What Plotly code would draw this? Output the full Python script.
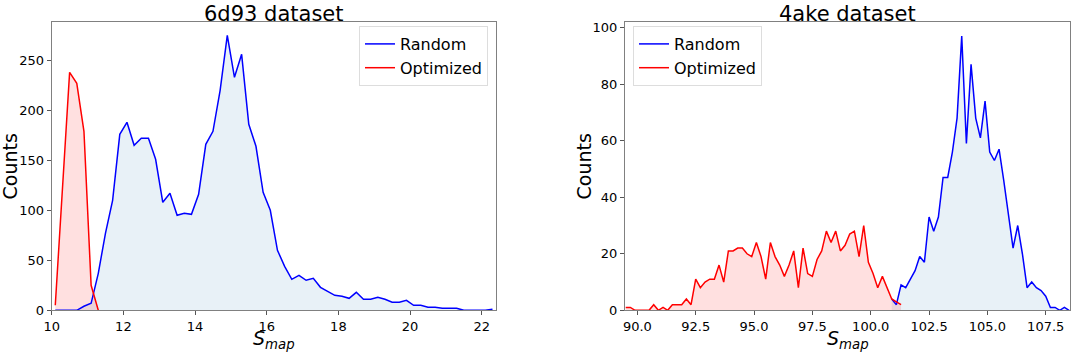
import plotly.graph_objects as go

# ---- 6d93 dataset ----
x6_random = [10.1, 10.3, 10.5, 10.7, 10.9, 11.1, 11.3, 11.5, 11.7, 11.9, 12.1, 12.3, 12.5, 12.7, 12.9,
             13.1, 13.3, 13.5, 13.7, 13.9, 14.1, 14.3, 14.5, 14.7, 14.9, 15.1, 15.3, 15.5, 15.7, 15.9,
             16.1, 16.3, 16.5, 16.7, 16.9, 17.1, 17.3, 17.5, 17.7, 17.9, 18.1, 18.3, 18.5, 18.7, 18.9,
             19.1, 19.3, 19.5, 19.7, 19.9, 20.1, 20.3, 20.5, 20.7, 20.9, 21.1, 21.3, 21.5, 21.7, 21.9,
             22.1, 22.3]
y6_random = [0, 0, 0, 0, 4, 7, 37, 77, 110, 176, 188, 165, 172, 172, 151,
             108, 117, 95, 97, 96, 116, 166, 179, 220, 275, 233, 256, 186, 164, 118,
             100, 60, 44, 31, 35, 30, 32, 23, 19, 15, 14, 12, 18, 11, 11,
             13, 11, 8, 8, 10, 5, 5, 3, 3, 2, 2, 2, 0, 0, 0,
             0, 1]
x6_opt = [10.1, 10.3, 10.5, 10.7, 10.9, 11.1, 11.3]
y6_opt = [5, 120, 238, 227, 179, 25, 0]

# ---- 4ake dataset ----
x4_random = [100.9, 101.1, 101.3, 101.5, 101.7, 101.9, 102.1, 102.3, 102.5, 102.7, 102.9, 103.1, 103.3,
             103.5, 103.7, 103.9, 104.1, 104.3, 104.5, 104.7, 104.9, 105.1, 105.3, 105.5, 105.7, 105.9,
             106.1, 106.3, 106.5, 106.7, 106.9, 107.1, 107.3, 107.5, 107.7, 107.9, 108.1, 108.3, 108.5]
y4_random = [4, 2, 9, 8, 11, 14, 19, 17, 33, 28, 33, 47, 47,
             56, 68, 97, 59, 87, 68, 61, 74, 56, 53, 57, 46, 33,
             22, 30, 20, 8, 10, 8, 7, 5, 1, 1, 0, 1, 0]
x4_opt = [89.5, 89.7, 89.9, 90.1, 90.3, 90.5, 90.7, 90.9, 91.1, 91.3, 91.5, 91.7, 91.9, 92.1, 92.3,
          92.5, 92.7, 92.9, 93.1, 93.3, 93.5, 93.7, 93.9, 94.1, 94.3, 94.5, 94.7, 94.9, 95.1, 95.3,
          95.5, 95.7, 95.9, 96.1, 96.3, 96.5, 96.7, 96.9, 97.1, 97.3, 97.5, 97.7, 97.9, 98.1, 98.3,
          98.5, 98.7, 98.9, 99.1, 99.3, 99.5, 99.7, 99.9, 100.1, 100.3, 100.5, 100.7, 100.9, 101.1, 101.3]
y4_opt = [1, 1, 0, 0, 0, 0, 2, 0, 1, 0, 2, 2, 2, 4, 2,
          11, 8, 10, 11, 11, 16, 10, 21, 21, 22, 22, 20, 19, 24, 19,
          11, 24, 19, 16, 12, 16, 21, 8, 22, 13, 12, 18, 21, 28, 24,
          28, 21, 23, 27, 28, 19, 30, 17, 13, 8, 12, 8, 4, 3, 2]

x6_ticks = [10, 12, 14, 16, 18, 20, 22]
y6_ticks = [0, 50, 100, 150, 200, 250]
x4_ticks = [90.0, 92.5, 95.0, 97.5, 100.0, 102.5, 105.0, 107.5]
y4_ticks = [0, 20, 40, 60, 80, 100]

titles = ["6d93 dataset", "4ake dataset"]
series_names = ["Random", "Optimized"]

BLUE = "#0000ff"
RED = "#ff0000"
BLUE_FILL = "rgba(31,119,180,0.10)"
RED_FILL = "rgba(255,0,0,0.12)"
FONT = "DejaVu Sans"

fig = go.Figure()

def add_fill(x, y, fill, xa, ya):
    fig.add_trace(go.Scatter(x=x, y=y, mode="lines", line=dict(width=0),
                             fill="tozeroy", fillcolor=fill, showlegend=False,
                             hoverinfo="skip", xaxis=xa, yaxis=ya))

def add_line(x, y, name, color, xa, ya, legend):
    fig.add_trace(go.Scatter(x=x, y=y, mode="lines", name=name,
                             line=dict(color=color, width=1.5),
                             xaxis=xa, yaxis=ya, legend=legend))

add_fill(x6_random, y6_random, BLUE_FILL, "x", "y")
add_fill(x6_opt, y6_opt, RED_FILL, "x", "y")
add_line(x6_random, y6_random, series_names[0], BLUE, "x", "y", "legend")
add_line(x6_opt, y6_opt, series_names[1], RED, "x", "y", "legend")

add_fill(x4_random, y4_random, BLUE_FILL, "x2", "y2")
add_fill(x4_opt, y4_opt, RED_FILL, "x2", "y2")
add_line(x4_random, y4_random, series_names[0], BLUE, "x2", "y2", "legend2")
add_line(x4_opt, y4_opt, series_names[1], RED, "x2", "y2", "legend2")

W, H = 1072, 352
def px_x(p):
    return p / W
def px_y(p):
    return (H - p) / H

axis_common = dict(showline=True, mirror=True, linecolor="#808080", linewidth=1,
                   ticks="outside", ticklen=4, tickcolor="#555555",
                   showgrid=False, zeroline=False, automargin=False,
                   tickfont=dict(family=FONT, size=13, color="black"))

legend_common = dict(bgcolor="rgba(255,255,255,0.8)", bordercolor="#dddddd", borderwidth=1,
                     font=dict(family=FONT, size=16, color="black"),
                     tracegroupgap=0, itemwidth=30)

fig.update_layout(
    width=W, height=H,
    margin=dict(l=0, r=0, t=0, b=0, autoexpand=False),
    paper_bgcolor="white", plot_bgcolor="white",
    font=dict(family=FONT, color="black"),
    xaxis=dict(domain=[px_x(51.7), px_x(495.7)], range=[10, 22.39],
               tickvals=x6_ticks, ticktext=[str(v) for v in x6_ticks], anchor="y", **axis_common),
    yaxis=dict(domain=[px_y(310.3), px_y(22.3)], range=[0, 288],
               tickvals=y6_ticks, anchor="x", **axis_common),
    xaxis2=dict(domain=[px_x(625), px_x(1070)], range=[89.47, 108.54],
                tickvals=x4_ticks, ticktext=[f"{v:.1f}" for v in x4_ticks], anchor="y2", **axis_common),
    yaxis2=dict(domain=[px_y(310.3), px_y(22.3)], range=[0, 101.9],
                tickvals=y4_ticks, anchor="x2", **axis_common),
    legend=dict(x=px_x(488), y=px_y(26), xanchor="right", yanchor="top", **legend_common),
    legend2=dict(x=px_x(633), y=px_y(26), xanchor="left", yanchor="top", **legend_common),
    showlegend=True,
)

ann = []
for cx, t in [(273.7, titles[0]), (847, titles[1])]:
    ann.append(dict(text=t, x=px_x(cx), y=1.0, xref="paper", yref="paper",
                    xanchor="center", yanchor="top", showarrow=False,
                    font=dict(family=FONT, size=21, color="black")))
for cx in [273.7, 847.5]:
    ann.append(dict(text="<i>S</i><sub><i>map</i></sub>", x=px_x(cx), y=px_y(339.5), xref="paper", yref="paper",
                    xanchor="center", yanchor="middle", showarrow=False,
                    font=dict(family=FONT, size=19, color="black")))
for cx in [9.5, 583.5]:
    ann.append(dict(text="Counts", x=px_x(cx), y=px_y(167), xref="paper", yref="paper",
                    xanchor="center", yanchor="middle", showarrow=False, textangle=-90,
                    font=dict(family=FONT, size=19, color="black")))
fig.update_layout(annotations=ann)

fig.write_html("out.html", config={"displayModeBar": False},
               post_script="document.body.style.margin='0px';document.body.style.overflow='hidden';")
